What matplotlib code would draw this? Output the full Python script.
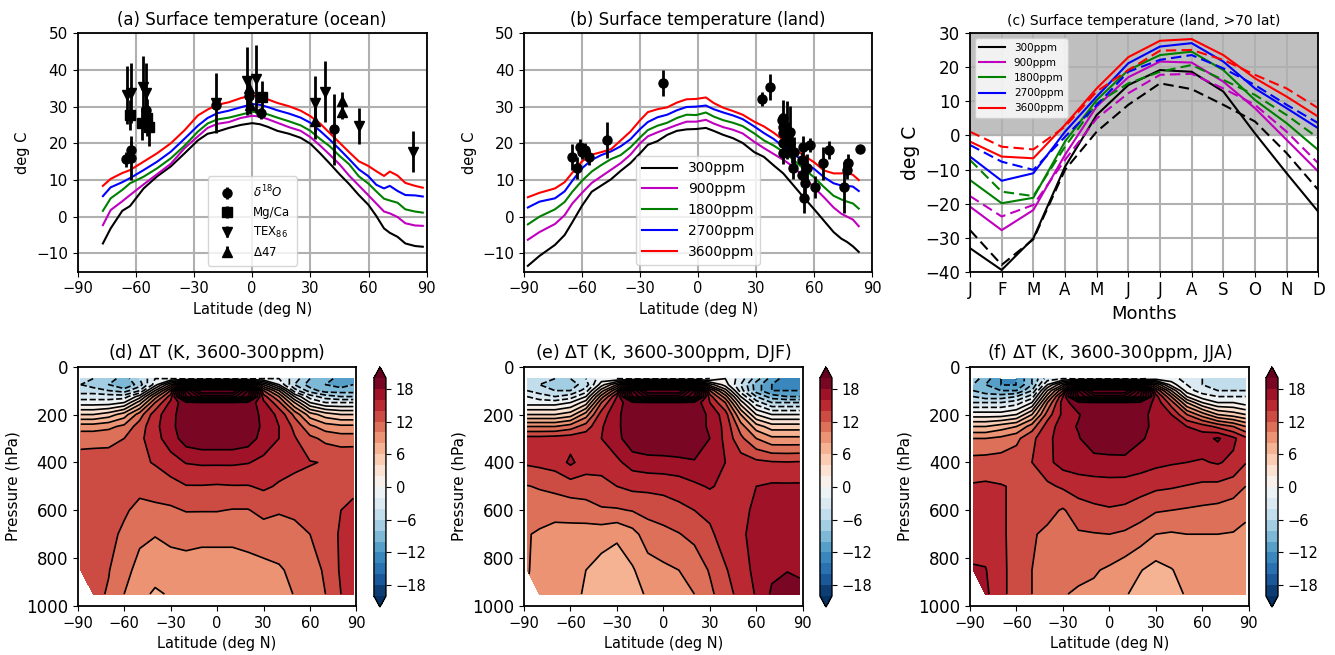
import numpy as np
import matplotlib
matplotlib.use("Agg")
from matplotlib import pyplot as plt

co2_labels = ['300ppm', '900ppm', '1800ppm', '2700ppm', '3600ppm']
co2_colors = ['k', 'm', 'g', 'b', 'r']

# ---- (a) zonal mean ocean surface temperature
lat_ocean = [-77, -73, -67, -63, -56, -49, -42, -35, -28, -23, -18, -12, -6, 0, 4, 8, 13,
             19, 25, 30, 35, 40, 45, 50, 55, 60, 64, 68, 71, 75, 79, 84, 88]
ocean_300 = [-7.3, -3.2, 1.6, 2.9, 7.7, 11.0, 13.7, 17.2, 20.8, 22.6, 23.2, 24.2, 25.0, 25.5, 25.2,
             24.5, 23.4, 22.6, 21.5, 19.9, 17.3, 14.5, 11.6, 8.9, 5.9, 3.2, 0.2, -3.2, -4.4, -5.5,
             -7.3, -8.0, -8.2]
ocean_900 = [-2.3, 1.8, 4.2, 5.9, 8.8, 11.6, 14.4, 18.6, 21.9, 24.2, 25.3, 25.8, 26.9, 27.5, 27.3,
             26.6, 25.6, 24.4, 23.4, 21.7, 19.4, 16.9, 14.3, 11.2, 8.5, 5.8, 3.6, 1.4, 0.9, -0.1,
             -1.8, -2.4, -2.5]
ocean_1800 = [1.6, 5.0, 7.3, 9.1, 10.9, 13.2, 15.9, 19.3, 23.2, 25.4, 26.5, 27.0, 27.8, 28.6, 28.4,
              27.9, 27.0, 26.0, 24.9, 23.4, 21.2, 19.2, 16.6, 14.3, 11.0, 9.0, 6.9, 4.9, 4.4, 3.8,
              2.0, 1.4, 1.1]
ocean_2700 = [5.6, 8.0, 9.4, 10.5, 12.7, 15.0, 17.7, 21.2, 24.8, 26.9, 28.2, 28.9, 29.8, 30.7, 30.5,
              29.9, 29.0, 28.1, 27.0, 25.6, 23.4, 21.0, 18.4, 15.7, 12.9, 11.0, 8.7, 7.7, 8.4, 7.0,
              5.9, 5.8, 5.5]
ocean_3600 = [8.4, 10.3, 11.9, 12.7, 15.0, 17.3, 20.0, 23.5, 27.6, 29.2, 30.5, 31.2, 32.3, 33.1, 32.8,
              32.0, 31.0, 30.1, 28.9, 27.4, 25.4, 22.8, 20.2, 17.6, 15.1, 13.8, 12.4, 11.1, 12.3, 11.2,
              9.2, 8.4, 7.9]

# proxy SSTs: latitude, temperature, error
d18o_lat = [-65.2, -62.5, -62.3, -54.8, -18.7, -1.5, 4.5, 42.2]
d18o_t = [15.6, 18.2, 16.0, 29.0, 30.5, 32.8, 28.2, 23.8]
d18o_err = [2.0, 2.5, 6.0, 4.0, 1.5, 2.5, 1.5, 9.7]
mgca_lat = [-62.8, -57.0, -54.5, -53.3, 4.9]
mgca_t = [27.7, 25.5, 27.0, 24.4, 32.5]
mgca_err = [4.0, 4.5, 5.0, 5.0, 4.5]
tex_lat = [-64.7, -62.5, -56.5, -54.7, -18.7, -2.5, 2.0, 32.4, 37.6, 55.2, 82.8]
tex_t = [33.2, 33.8, 35.3, 33.6, 31.0, 37.0, 37.5, 30.9, 34.1, 24.7, 17.7]
tex_err = [7.8, 8.2, 8.5, 8.2, 8.2, 9.2, 9.3, 7.5, 8.4, 5.0, 5.6]
d47_lat = [-1.5, -1.0, 32.6, 46.3, 46.3]
d47_t = [35.0, 30.5, 26.2, 31.4, 28.6]
d47_err = [3.0, 2.5, 5.0, 2.5, 2.0]

# ---- (b) zonal mean land surface temperature
lat_land = [-88, -82, -74, -69, -65, -60, -55, -50, -45, -40, -35, -30, -26, -21, -16, -11, -6, -1,
            4, 8, 13, 18, 23, 29, 34, 39, 44, 49, 54, 60, 65, 70, 74, 77, 80, 83]
land_300 = [-13.4, -10.7, -7.7, -5.0, -1.5, 3.0, 6.8, 8.5, 10.2, 12.5, 14.6, 17.3, 19.6, 20.6, 22.3,
            23.4, 23.8, 23.9, 24.2, 23.4, 22.3, 21.4, 20.1, 17.6, 16.3, 14.0, 11.8, 8.7, 5.6, 2.0,
            -1.1, -4.2, -6.0, -6.9, -8.1, -9.6]
land_900 = [-6.3, -4.2, -2.0, 0.4, 3.6, 6.5, 9.2, 11.0, 12.8, 14.6, 16.9, 20.0, 21.9, 23.0, 24.0,
            25.0, 25.9, 25.9, 26.4, 25.4, 24.4, 23.7, 22.7, 20.4, 18.7, 17.1, 15.5, 13.7, 11.1, 7.9,
            5.3, 2.5, 0.8, 0.0, -0.8, -2.6]
land_1800 = [-2.1, 0.0, 2.0, 4.0, 6.8, 9.8, 12.3, 14.1, 15.7, 16.8, 18.9, 21.6, 23.6, 24.8, 25.6,
             26.9, 27.8, 27.7, 28.4, 27.3, 26.3, 25.6, 24.7, 22.7, 20.8, 19.4, 17.7, 15.6, 13.3, 10.7,
             8.1, 5.7, 4.7, 4.1, 3.6, 2.2]
land_2700 = [2.5, 4.1, 5.0, 6.9, 9.8, 13.2, 15.5, 16.8, 17.8, 19.2, 21.1, 23.9, 25.8, 27.1, 27.8,
             29.0, 29.9, 30.0, 30.3, 29.3, 28.4, 27.6, 26.6, 24.6, 22.8, 21.2, 19.1, 17.4, 15.1, 13.0,
             10.8, 9.1, 8.5, 8.4, 8.2, 7.0]
land_3600 = [5.3, 6.5, 7.7, 9.4, 12.0, 15.1, 16.9, 17.6, 18.4, 20.8, 23.2, 26.3, 28.5, 29.3, 29.8,
             31.1, 32.0, 32.1, 32.5, 31.0, 29.7, 28.8, 27.8, 25.9, 24.6, 22.9, 20.9, 18.7, 16.9, 14.8,
             12.6, 11.8, 11.8, 12.0, 11.4, 10.0]

# terrestrial proxies
prox_land_lat = [-65.4, -62.8, -61.0, -60.2, -58.5, -56.3, -46.9, -18.3, 32.8, 37.1,
                 43.1, 44.0, 43.7, 44.0, 44.0, 44.0, 45.7, 46.6, 47.5, 47.5, 48.3, 48.8, 49.5,
                 53.5, 53.5, 54.3, 54.7, 55.2, 56.1, 57.8, 60.4, 64.7, 67.8, 75.3, 77.1, 77.6, 83.6]
prox_land_t = [16.2, 13.2, 19.1, 17.7, 18.2, 16.2, 20.9, 36.5, 32.1, 35.3,
               26.4, 26.8, 24.5, 22.7, 20.0, 17.3, 23.6, 21.8, 23.2, 20.0, 17.7, 13.2, 17.7,
               15.5, 11.4, 19.1, 5.0, 9.1, 13.2, 19.5, 8.2, 14.5, 18.2, 8.0, 12.7, 14.5, 18.4]
prox_land_err = [3.6, 3.0, 2.0, 2.0, 2.0, 2.0, 5.0, 3.5, 1.8, 3.5,
                 2.0, 5.0, 3.0, 3.0, 3.0, 3.0, 8.0, 4.0, 7.0, 3.0, 3.0, 3.0, 4.0,
                 2.0, 3.0, 3.0, 4.0, 4.0, 4.0, 2.0, 3.0, 4.5, 2.5, 7.0, 2.5, 2.5, 0.0]

# ---- (c) seasonal cycle over high-latitude land
months = ['J', 'F', 'M', 'A', 'M', 'J', 'J', 'A', 'S', 'O', 'N', 'D']
north_300 = [-33.1, -39.5, -30.2, -9.2, 6.0, 14.8, 19.2, 18.7, 12.9, 0.6, -11.1, -22.4]
north_900 = [-20.9, -27.8, -21.9, -5.7, 8.5, 17.1, 21.7, 21.4, 15.8, 8.0, -1.3, -10.6]
north_1800 = [-13.1, -19.9, -18.3, -1.8, 10.4, 19.2, 23.6, 24.6, 19.2, 10.4, 3.6, -4.3]
north_2700 = [-6.2, -13.3, -11.1, 1.1, 11.4, 21.2, 26.1, 27.1, 21.7, 13.8, 8.0, 2.1]
north_3600 = [-1.8, -6.2, -6.7, 3.1, 13.8, 23.0, 27.8, 28.3, 23.6, 16.8, 11.4, 5.5]
south_300 = [-27.8, -38.0, -30.5, -10.1, 1.1, 9.0, 15.3, 13.6, 9.0, 4.1, -5.2, -16.0]
south_900 = [-17.8, -23.8, -20.4, -7.2, 5.0, 12.4, 17.8, 18.1, 13.8, 9.0, 1.1, -8.2]
south_1800 = [-7.2, -16.5, -17.8, -3.3, 9.4, 15.3, 18.7, 20.7, 16.3, 11.9, 6.0, -0.8]
south_2700 = [-2.8, -7.7, -10.1, -0.4, 8.9, 18.7, 22.2, 23.6, 19.7, 14.8, 9.0, 3.6]
south_3600 = [1.1, -3.3, -4.1, 2.6, 12.9, 19.2, 24.9, 25.1, 22.2, 17.8, 13.8, 8.0]

# ---- (d)-(f) zonal mean temperature change, rows = pressure levels, cols = latitude
lat_zm = [-88, -80, -70, -60, -50, -40, -30, -20, -10, 0, 10, 20, 30, 40, 50, 60, 70, 80, 88]
plev = [50, 75, 100, 125, 150, 200, 250, 300, 400, 500, 600, 700, 850, 950]
nan = np.nan

dT_ann = [
    [-5, -6, -7, -9, -6, -2, -2, -3, -3, -3, -3, -3, -2, -2, -5, -8, -9, -11, -10],
    [-6, -7, -8, -10, -7, -1, 6, 18, 22, 22, 22, 18, 6, 0, -6, -9, -10, -11, -10],
    [-5, -5, -6, -7, -4, 4, 12, 30, 38, 38, 38, 30, 12, 6, -3, -7, -9, -9, -9],
    [-3, -3, -3, -3, 1, 9, 15, 28, 33, 33, 33, 28, 15, 10, 2, -3, -5, -6, -6],
    [-1, -1, -1, 0, 5, 12, 16.5, 19.5, 19.9, 19.9, 19.9, 19.5, 16.5, 12.5, 6, 0, -2, -2, -2],
    [4, 4, 5, 7, 11, 15.2, 17.2, 19.5, 19.7, 19.7, 19.7, 19.5, 17.3, 15.5, 11.5, 7, 5, 4, 4],
    [9, 9, 9.5, 10.5, 13, 15.5, 17.3, 19.6, 19.8, 19.8, 19.8, 19.6, 17.5, 16, 13.5, 10.5, 9, 8.5, 8.5],
    [11.5, 11.5, 11.5, 12, 13.5, 15.3, 17, 19, 19.5, 19.5, 19.5, 19, 17.2, 16, 14.2, 12.5, 11.5, 11, 11],
    [12.6, 12.7, 12.8, 13.0, 13.5, 14.2, 15.2, 16.1, 16.3, 16.3, 16.3, 16.1, 15.5, 14.8, 14.4, 14.1, 13.9, 13.8, 13.9],
    [12.8, 12.9, 13.0, 12.9, 12.6, 12.6, 13.2, 13.9, 13.9, 13.8, 13.9, 13.9, 14.3, 13.8, 13.5, 13.4, 13.5, 13.6, 13.8],
    [12.9, 12.9, 12.8, 12.3, 11.4, 11.7, 11.7, 12.1, 12.1, 12.1, 11.9, 11.9, 12.6, 12.2, 12.4, 12.6, 13.2, 14.0, 14.2],
    [13.0, 13.0, 12.6, 11.6, 10.4, 10.1, 10.5, 10.6, 10.4, 10.4, 10.4, 10.6, 11.0, 11.0, 11.4, 12.0, 12.8, 14.3, 14.6],
    [13.0, 12.9, 12.1, 10.6, 9.4, 8.8, 9.1, 9.3, 9.3, 9.3, 9.3, 9.4, 9.5, 9.8, 10.4, 11.4, 12.2, 14.3, 14.8],
    [nan, 12.6, 11.8, 10.0, 8.6, 7.7, 8.2, 8.8, 9.0, 9.1, 9.1, 9.1, 8.8, 9.2, 10.1, 11.2, 12.0, 14.0, 14.5],
]

dT_djf = [
    [-5, -5, -6, -6, -4, -1, -2, -3, -3, -3, -3, -3, -2, 0, -3, -7, -11, -13, -12],
    [-5, -6, -7, -7, -5, 1, 6, 18, 22, 22, 22, 18, 5, 1, -4, -9, -12, -13, -12],
    [-4, -5, -6, -6, -3, 5, 12, 30, 38, 38, 38, 30, 12, 5, -3, -9, -12, -12, -12],
    [-2, -3, -4, -3, 0, 9, 16, 28, 33, 33, 33, 28, 15, 9, 0, -6, -9, -10, -10],
    [-1, -1, -1, 0, 3, 12, 17, 19.5, 19.9, 19.9, 19.9, 19.5, 16, 12, 3, -3, -6, -6, -6],
    [4, 4, 4, 5, 9, 15, 17.5, 19.5, 19.8, 19.8, 19.8, 19.5, 17.5, 15, 8, 2, 0, 0, 0],
    [10, 10, 10, 11, 13, 15.8, 17.5, 19.6, 19.8, 19.8, 19.8, 19.6, 17.5, 15.5, 11, 7, 5, 5, 5],
    [14.8, 14.8, 15.0, 15.2, 15.3, 16.0, 17.3, 19.5, 19.8, 19.8, 19.8, 19.6, 18, 15.5, 12.5, 10, 8.5, 8.5, 8.5],
    [14.3, 14.5, 14.8, 16.4, 15.0, 15.0, 15.6, 16.8, 17.2, 17.3, 17.5, 17.8, 17.6, 16.0, 15.0, 14.5, 14.2, 14.1, 14.2],
    [11.9, 12.2, 12.6, 13.0, 13.0, 13.2, 14.0, 14.5, 14.5, 14.6, 14.9, 15.6, 16.2, 15.5, 15.6, 16.0, 16.3, 16.3, 16.3],
    [10.8, 10.7, 10.6, 10.9, 11.2, 11.8, 11.8, 12.1, 12.6, 13.0, 13.5, 14.0, 14.5, 15.3, 15.6, 16.3, 16.8, 16.8, 16.8],
    [10.1, 9.8, 9.4, 9.2, 9.0, 8.8, 8.3, 9.3, 11.0, 11.4, 11.9, 12.6, 13.6, 15.0, 15.7, 16.6, 17.2, 17.4, 17.3],
    [10.1, 9.6, 9.2, 8.7, 8.0, 7.3, 7.1, 7.8, 9.1, 9.6, 10.0, 10.6, 12.2, 13.8, 15.2, 16.5, 17.6, 17.9, 17.7],
    [nan, 9.5, 9.1, 8.5, 7.8, 6.9, 6.8, 7.2, 8.3, 9.0, 9.5, 10.0, 11.5, 13.3, 14.6, 16.2, 18.3, 19.2, 18.6],
]

dT_jja = [
    [-7, -9, -12, -12, -8, -3, -2, -3, -3, -3, -3, -3, -1, -1, -3, -4, -6, -5, -5],
    [-8, -10, -12, -12, -8, 0, 6, 18, 22, 22, 22, 18, 8, 1, -2, -4, -5, -5, -4],
    [-8, -9, -10, -10, -6, 4, 12, 30, 38, 38, 38, 30, 14, 6, -1, -3, -4, -4, -4],
    [-6, -7, -7, -6, -3, 7, 16, 28, 33, 33, 33, 28, 17, 10, 2, -1, -2, -2, -2],
    [-4, -4, -4, -3, 0, 10, 17, 19.5, 19.9, 19.9, 19.9, 19.5, 17.5, 13, 6, 2, 0, 0, -1],
    [1, 1, 1, 2, 6, 13, 16.5, 17.8, 19.6, 19.7, 19.6, 18.5, 17.5, 16, 12, 9, 6, 5, 4],
    [6, 6, 7, 8, 11, 15, 17, 18.2, 19.8, 19.8, 19.8, 18.6, 17.5, 17, 16, 15, 13.5, 12, 10],
    [10, 10, 10.5, 11.5, 13.5, 15.5, 17, 17.8, 19.6, 19.7, 19.6, 18.2, 17.5, 17, 17, 17.2, 18.3, 16.5, 14.5],
    [12.8, 12.9, 13.0, 13.2, 14.0, 15.5, 16.8, 17, 17, 17.2, 17.3, 17, 16.5, 16.2, 16.0, 15.8, 16.2, 15.5, 14.1],
    [14.2, 14.3, 14.1, 13.8, 13.6, 13.6, 14.3, 15.0, 15.3, 15.3, 15.2, 14.8, 14.4, 14.2, 13.9, 13.6, 13.5, 13.0, 12.0],
    [14.5, 14.6, 14.3, 13.4, 12.8, 12.6, 11.8, 13.0, 13.5, 13.8, 13.6, 13.0, 12.2, 12.0, 11.8, 11.6, 11.4, 11.0, 10.4],
    [15.0, 15.0, 14.4, 13.2, 12.2, 11.6, 11.0, 11.8, 11.9, 12.0, 11.7, 11.0, 10.0, 9.8, 10.0, 10.0, 10.0, 9.9, 9.6],
    [16.2, 16.1, 14.6, 13.0, 12.0, 11.1, 10.5, 10.4, 10.2, 9.7, 9.0, 8.1, 7.3, 7.9, 8.7, 9.2, 9.3, 9.4, 9.4],
    [nan, 16.4, 14.6, 13.0, 12.0, 11.0, 10.1, 9.8, 9.6, 9.0, 8.2, 7.3, 6.8, 7.3, 8.2, 9.0, 9.0, 9.2, 9.3],
]


fig = plt.figure(figsize=(13.35, 6.55), dpi=100)

top_b, top_h = 0.5852, 0.364
ax_a = fig.add_axes([0.0582, top_b, 0.2614, top_h])
ax_b = fig.add_axes([0.3925, top_b, 0.2609, top_h])
ax_c = fig.add_axes([0.7266, top_b, 0.2609, top_h])


def style_lat_axis(ax):
    ax.set_xlim(-90, 90)
    ax.set_xticks(np.arange(-90, 91, 30))
    ax.set_xlabel('Latitude (deg N)', fontsize=10.5)
    ax.tick_params(axis='x', labelsize=10.5)


# (a)
for ys, c, lab in zip([ocean_300, ocean_900, ocean_1800, ocean_2700, ocean_3600], co2_colors, co2_labels):
    ax_a.plot(lat_ocean, ys, color=c, lw=1.5, label=lab)
ekw = dict(color='k', ls='none', elinewidth=2, capsize=0)
ax_a.errorbar(d18o_lat, d18o_t, yerr=d18o_err, marker='o', ms=6.5, label=r'$\delta^{18}O$', **ekw)
ax_a.errorbar(mgca_lat, mgca_t, yerr=mgca_err, marker='s', ms=6.5, label='Mg/Ca', **ekw)
ax_a.errorbar(tex_lat, tex_t, yerr=tex_err, marker='v', ms=7.5, label=r'TEX$_{86}$', **ekw)
ax_a.errorbar(d47_lat, d47_t, yerr=d47_err, marker='^', ms=7.5, label=r'$\Delta$47', **ekw)
h, l = ax_a.get_legend_handles_labels()
ax_a.legend(h[5:], l[5:], loc='lower center', fontsize=8.5, borderpad=0.6, handletextpad=1.2)
ax_a.set_ylim(-15, 50)
ax_a.set_yticks(np.arange(-10, 51, 10))
ax_a.set_ylabel('deg C', fontsize=10.5)
ax_a.set_title('(a) Surface temperature (ocean)', fontsize=12)
style_lat_axis(ax_a)

# (b)
for ys, c, lab in zip([land_300, land_900, land_1800, land_2700, land_3600], co2_colors, co2_labels):
    ax_b.plot(lat_land, ys, color=c, lw=1.5, label=lab)
ax_b.errorbar(prox_land_lat, prox_land_t, yerr=prox_land_err, marker='o', ms=6.5, **ekw)
ax_b.legend(loc='lower center', fontsize=10, handlelength=2.5)
ax_b.set_ylim(-15, 50)
ax_b.set_yticks(np.arange(-10, 51, 10))
ax_b.set_ylabel('deg C', fontsize=10.5)
ax_b.set_title('(b) Surface temperature (land)', fontsize=12)
style_lat_axis(ax_b)

for ax in (ax_a, ax_b):
    ax.tick_params(axis='y', labelsize=11)

# (c)
mon = np.arange(12)
ax_c.axhspan(0, 30, color='0.75', zorder=0)
for ys, c, lab in zip([north_300, north_900, north_1800, north_2700, north_3600], co2_colors, co2_labels):
    ax_c.plot(mon, ys, color=c, lw=1.5, label=lab)
for ys, c in zip([south_300, south_900, south_1800, south_2700, south_3600], co2_colors):
    ax_c.plot(mon, ys, color=c, lw=1.5, ls=(0, (5, 2.5)))
ax_c.legend(loc='upper left', fontsize=7.5, handlelength=2.5)
ax_c.set_xlim(0, 11)
ax_c.set_xticks(mon)
ax_c.set_xticklabels(months)
ax_c.set_ylim(-40, 30)
ax_c.set_yticks(np.arange(-40, 31, 10))
ax_c.set_xlabel('Months', fontsize=13)
ax_c.set_ylabel('deg C', fontsize=13.5)
ax_c.set_title('(c) Surface temperature (land, >70 lat)', fontsize=10)
ax_c.tick_params(labelsize=12)

for ax in (ax_a, ax_b, ax_c):
    ax.grid(True, color='#b0b0b0', lw=1.5)
    ax.set_axisbelow(True)
    for s in ax.spines.values():
        s.set_linewidth(1.3)

# (d)-(f)
bot_b, bot_h = 0.0748, 0.3654
panels = [
    (dT_ann, 0.0582, 0.2801, r'(d) $\Delta$T (K, 3600-300ppm)'),
    (dT_djf, 0.3925, 0.6142, r'(e) $\Delta$T (K, 3600-300ppm, DJF)'),
    (dT_jja, 0.7266, 0.9483, r'(f) $\Delta$T (K, 3600-300ppm, JJA)'),
]
fill_levels = np.arange(-20, 21, 2)
line_levels = np.arange(-40, 41, 2)
for field, x0, cx0, title in panels:
    ax = fig.add_axes([x0, bot_b, 0.2088, bot_h])
    z = np.ma.masked_invalid(np.array(field, dtype=float))
    cf = ax.contourf(lat_zm, plev, z, levels=fill_levels, cmap='RdBu_r', extend='both')
    ax.contour(lat_zm, plev, z, levels=line_levels, colors='k', linewidths=1.2)
    ax.set_xlim(-90, 90)
    ax.set_ylim(1000, 0)
    ax.set_xticks(np.arange(-90, 91, 30))
    ax.set_yticks(np.arange(0, 1001, 200))
    ax.set_xlabel('Latitude (deg N)', fontsize=10.5)
    ax.set_ylabel('Pressure (hPa)', fontsize=11)
    ax.set_title(title, fontsize=12.5)
    ax.tick_params(axis='x', labelsize=10.5)
    ax.tick_params(axis='y', labelsize=12)
    for s in ax.spines.values():
        s.set_linewidth(1.3)
    cax = fig.add_axes([cx0, 0.0733, 0.009, 0.3664])
    cb = fig.colorbar(cf, cax=cax, ticks=[-18, -12, -6, 0, 6, 12, 18])
    cb.ax.tick_params(labelsize=10.5)
    cb.outline.set_linewidth(1.0)

fig.savefig('out.png', dpi=100)
